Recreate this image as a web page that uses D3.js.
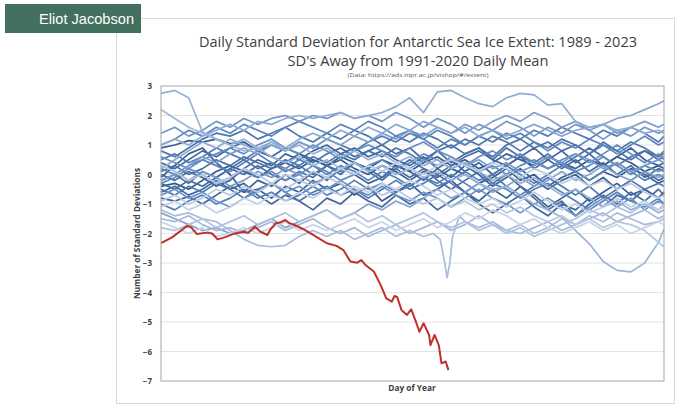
<!DOCTYPE html>
<html><head><meta charset="utf-8">
<script src="https://cdn.jsdelivr.net/npm/d3@7"></script>
<style>
html,body{margin:0;padding:0;background:#fff;}
svg{display:block;}
</style></head>
<body>
<svg id="chart" width="680" height="409"></svg>
<script>
// ---------- DATA ----------
const yTicks = [3, 2, 1, 0, -1, -2, -3, -4, -5, -6, -7];
const titleLines = ["Daily Standard Deviation for Antarctic Sea Ice Extent: 1989 - 2023", "SD's Away from 1991-2020 Daily Mean"];
const sourceNote = "(Data: https://ads.nipr.ac.jp/vishop/#/extent)";
const authorLabel = "Eliot Jacobson";
const yAxisTitle = "Number of Standard Deviations";
const xAxisTitle = "Day of Year";

// shared sample days for the 1989-2022 series
const days = [1,11,21,31,41,51,61,71,81,91,101,111,121,131,141,151,161,171,181,191,201,211,221,231,241,251,261,271,281,291,301,311,321,331,341,351,361,365];

// 1989 ... 2022 (ordered old -> recent), values in SDs at `days`
const blueSeries = [
[-0.4,-0.3,-0.5,-0.2,0.1,0.3,0.1,-0.1,0.2,0.4,0.2,0.5,0.3,0.6,0.4,0.2,0.5,0.3,0.1,0.4,0.6,0.3,0.5,0.2,0.4,0.7,0.5,0.3,0.6,0.4,0.2,0.5,0.3,0.6,0.4,0.1,0.3,0.2],
[0.9,1.0,1.15,1.1,1.2,1.05,1.1,0.8,0.6,0.4,0.7,0.5,0.3,0.5,0.2,0.0,0.3,0.1,-0.2,0.1,-0.1,0.2,0.0,-0.3,-0.1,0.2,-0.2,0.0,-0.4,-0.1,0.1,-0.2,0.1,-0.1,0.2,0.0,-0.3,-0.2],
[-0.1,0.3,0.7,0.9,0.4,0.0,-0.6,-0.5,-0.8,-0.4,-0.6,-0.2,-0.5,-0.3,-0.7,-0.4,-0.9,-0.6,-0.3,-0.7,-0.5,-0.2,-0.6,-0.9,-0.5,-0.8,-0.4,-0.7,-1.1,-0.8,-0.5,-0.9,-0.6,-0.3,-0.7,-0.5,-0.8,-0.6],
[-0.8,-0.9,-0.75,-1.0,-0.7,-0.4,-0.6,-0.2,-0.4,0.0,-0.3,0.1,-0.2,0.2,0.0,-0.3,-0.1,0.3,0.1,-0.2,0.2,-0.1,0.3,0.0,-0.4,-0.1,0.2,-0.2,-0.5,-0.2,0.0,-0.4,-0.1,-0.5,-0.2,0.1,-0.2,-0.1],
[0.0,-0.2,0.1,-0.1,-0.4,-0.2,0.2,0.5,0.3,0.7,0.5,0.8,1.0,0.7,0.9,0.6,0.8,0.5,0.3,0.6,0.2,0.5,0.1,0.4,0.0,0.3,0.6,0.2,0.5,0.8,0.4,0.7,0.3,0.6,0.9,0.5,0.3,0.4],
[-0.6,-0.4,-0.7,-0.5,-0.2,-0.5,-0.3,-0.7,-1.0,-0.7,-0.9,-1.2,-0.8,-1.0,-0.6,-0.9,-1.1,-0.7,-1.0,-0.8,-1.2,-0.9,-0.6,-1.0,-1.3,-1.0,-0.7,-1.1,-1.4,-1.0,-1.2,-0.8,-1.1,-0.7,-0.9,-0.5,-0.8,-0.6],
[0.4,0.2,0.5,0.8,0.6,0.9,1.1,0.8,0.6,0.9,0.7,0.4,0.7,0.9,0.6,0.8,1.0,0.7,0.9,0.5,0.8,0.4,0.7,0.9,0.5,0.3,0.6,0.9,0.5,0.2,0.5,0.1,0.4,0.0,0.3,-0.1,0.2,0.1],
[-0.3,-0.5,-0.2,-0.4,-0.1,0.2,0.0,0.3,0.0,-0.2,0.1,-0.1,0.3,0.0,0.4,0.1,-0.2,0.2,-0.1,0.2,-0.2,-0.5,-0.2,0.1,-0.3,0.0,-0.4,-0.8,-1.2,-0.9,-1.4,-1.0,-0.7,-1.0,-0.6,-0.9,-0.5,-0.7],
[0.1,0.3,0.0,0.2,0.5,0.3,0.6,0.4,0.2,0.5,0.3,0.0,0.3,0.1,0.4,0.2,-0.1,0.2,0.5,0.2,0.0,0.3,0.6,0.8,0.5,0.9,0.6,0.4,0.7,0.3,0.6,0.9,0.6,0.3,0.6,0.8,0.5,0.6],
[-0.2,0.0,-0.3,0.1,-0.1,0.2,0.5,0.2,0.4,0.1,0.3,0.6,0.4,0.7,0.5,0.8,0.6,0.9,0.7,0.4,0.8,1.0,0.7,0.9,0.6,1.0,1.2,0.9,1.1,0.8,1.0,0.7,1.1,0.8,0.5,0.8,0.6,0.7],
[0.8,0.6,0.9,1.2,1.4,1.3,1.5,1.2,1.4,1.6,1.3,1.1,1.4,1.2,1.5,1.3,1.0,1.3,1.1,1.4,1.2,0.9,1.2,1.0,1.3,1.1,0.8,1.1,0.9,1.2,1.0,0.7,1.0,0.8,1.1,0.9,0.6,0.8],
[-0.5,-0.7,-0.4,-0.6,-0.3,-0.5,-0.8,-0.5,-0.3,-0.6,-0.9,-0.6,-0.4,-0.7,-0.5,-0.8,-0.5,-0.2,-0.5,-0.3,0.0,-0.3,-0.6,-0.3,0.0,-0.4,-0.7,-0.4,-0.1,-0.4,-0.7,-0.4,-0.8,-0.5,-0.2,-0.5,-0.3,-0.4],
[0.5,0.7,0.4,0.6,0.9,0.7,0.5,0.8,1.0,0.8,1.1,0.9,1.2,1.0,0.8,1.1,1.3,1.1,1.4,1.2,0.9,1.2,1.0,1.3,1.1,1.4,1.2,1.5,1.3,1.6,1.4,1.2,1.5,1.3,1.6,1.4,1.1,1.3],
[-1.0,-1.2,-0.9,-0.7,-1.0,-0.8,-0.5,-0.8,-0.6,-0.9,-0.7,-0.4,-0.7,-0.5,-0.2,-0.5,-0.3,-0.6,-0.4,-0.1,-0.4,-0.2,0.1,-0.2,0.0,0.3,0.0,-0.3,0.0,0.3,0.1,-0.2,0.1,0.4,0.1,-0.2,0.0,-0.1],
[0.2,0.0,0.3,0.5,0.3,0.1,0.4,0.7,0.4,0.2,0.5,0.3,0.0,0.3,0.1,-0.2,0.1,-0.1,-0.4,-0.1,-0.3,0.0,-0.3,-0.6,-0.3,-0.5,-0.8,-0.5,-0.3,-0.6,-0.9,-1.2,-0.9,-0.6,-0.9,-1.1,-0.8,-1.0],
[1.0,1.2,1.5,1.3,1.6,1.4,1.7,1.5,1.3,1.6,1.8,1.6,1.4,1.7,1.5,1.8,1.6,1.3,1.5,1.2,1.5,1.3,1.0,1.3,1.5,1.2,1.4,1.1,0.8,1.1,0.9,1.2,1.0,0.7,1.0,1.3,1.0,1.1],
[-0.3,-0.1,0.2,0.0,-0.3,-0.1,0.2,-0.1,0.1,-0.2,0.0,0.3,0.1,-0.2,0.0,0.3,0.5,0.2,0.4,0.7,0.5,0.2,0.4,0.1,0.3,0.0,0.3,0.5,0.2,0.4,0.1,0.3,0.6,0.3,0.0,0.3,0.1,0.2],
[0.6,0.4,0.2,0.5,0.7,0.9,0.7,1.0,1.2,0.9,0.7,1.0,0.8,0.5,0.8,1.0,0.8,0.6,0.9,1.1,0.8,0.6,0.3,0.6,0.8,0.5,0.7,0.4,0.2,0.5,0.7,0.4,0.7,1.0,0.7,0.4,0.7,0.5],
[-0.7,-0.5,-0.8,-0.6,-0.9,-1.1,-0.8,-0.6,-0.3,-0.6,-0.4,-0.7,-0.5,-0.2,-0.5,-0.7,-0.4,-0.7,-0.9,-0.6,-0.8,-1.1,-0.8,-0.5,-0.8,-1.0,-1.3,-1.0,-0.8,-1.1,-1.4,-1.1,-0.8,-1.1,-0.8,-1.2,-0.9,-1.0],
[1.4,1.6,1.3,1.5,1.8,1.6,1.9,1.7,1.9,2.0,1.8,2.0,1.9,2.1,1.9,2.0,1.8,2.1,1.9,1.6,1.9,1.7,1.4,1.7,1.5,1.8,1.6,1.3,1.6,1.4,1.7,1.5,1.2,1.5,1.3,1.6,1.4,1.5],
[0.3,0.1,-0.2,0.1,-0.1,-0.4,-0.2,0.1,-0.1,0.2,0.0,-0.3,-0.1,0.2,0.4,0.1,0.3,0.0,0.2,0.5,0.3,0.6,0.3,0.5,0.2,0.4,0.1,0.3,0.6,0.4,0.7,0.5,0.2,0.4,0.1,0.3,0.5,0.4],
[-0.2,0.0,0.3,0.6,0.4,0.7,0.9,0.7,1.0,0.8,1.1,0.9,1.2,1.0,1.3,1.1,1.4,1.2,1.5,1.3,1.6,1.4,1.7,1.5,1.8,2.0,1.8,2.1,1.9,1.6,1.8,1.5,1.7,1.4,1.6,1.8,1.6,1.7],
[-1.3,-1.5,-1.7,-1.9,-1.8,-2.0,-1.9,-1.7,-1.5,-1.8,-1.6,-1.4,-1.2,-1.5,-1.3,-1.0,-1.2,-0.9,-1.1,-0.8,-0.5,-0.8,-0.6,-0.3,-0.6,-0.4,-0.1,-0.4,-0.2,0.1,-0.2,0.0,0.3,0.0,-0.2,0.1,-0.1,0.0],
[0.2,0.5,0.8,1.1,0.9,1.2,1.0,0.8,1.1,0.9,1.2,1.4,1.2,1.5,1.3,1.6,1.4,1.7,1.5,1.8,1.6,1.4,1.6,1.3,1.5,1.3,1.5,1.7,1.5,1.3,1.5,1.6,1.7,1.9,2.0,2.2,2.4,2.5],
[1.0,1.2,1.0,1.3,1.5,1.7,1.5,1.8,1.7,1.9,2.0,1.9,2.0,2.1,1.9,2.0,2.1,2.3,2.6,2.1,2.8,2.85,2.6,2.4,2.3,2.6,2.75,2.7,2.35,2.4,1.8,1.6,1.7,1.5,1.6,1.4,1.5,1.4],
[2.75,2.85,2.6,1.45,1.2,1.0,1.2,0.9,1.1,0.8,1.0,0.7,0.9,0.6,0.8,0.5,0.7,0.4,0.6,0.3,0.5,0.2,0.4,0.1,-0.2,0.0,-0.3,-0.1,-0.4,-0.7,-0.5,-0.8,-1.1,-0.9,-1.2,-1.0,-1.3,-1.2],
[2.2,1.9,1.6,1.4,1.2,1.0,0.8,0.9,0.6,0.4,0.6,0.3,0.5,0.2,0.4,0.1,0.3,0.0,0.2,-0.1,0.1,-0.2,0.0,-0.3,-0.5,-0.4,-0.7,-1.0,-1.2,-1.45,-1.9,-2.35,-2.95,-3.25,-3.3,-3.0,-2.3,-1.85],
[-1.5,-1.6,-1.4,-1.7,-1.9,-1.8,-2.0,-1.8,-1.6,-1.9,-1.7,-1.5,-1.8,-2.0,-1.8,-2.1,-1.9,-1.7,-2.0,-1.8,-1.6,-1.9,-1.7,-1.4,-1.7,-1.9,-2.0,-1.8,-1.6,-1.9,-1.7,-1.5,-1.3,-1.6,-1.4,-1.2,-1.5,-1.4],
[-1.8,-1.9,-1.7,-1.5,-1.8,-1.6,-1.4,-1.7,-1.5,-1.3,-1.6,-1.4,-1.2,-1.5,-1.3,-1.6,-1.4,-1.7,-1.5,-1.3,-1.6,-1.8,-1.6,-1.9,-1.7,-2.0,-1.8,-2.1,-1.9,-1.7,-1.5,-1.2,-1.4,-1.1,-1.3,-1.0,-1.2,-1.0],
[0.3,0.1,-0.2,0.0,-0.3,-0.1,0.2,0.0,-0.3,-0.5,-0.2,-0.4,-0.1,-0.3,-0.6,-0.4,-0.7,-0.5,-0.8,-1.0,-0.8,-1.1,-0.9,-1.2,-1.0,-1.3,-1.1,-1.4,-1.6,-1.4,-1.7,-1.5,-1.8,-1.6,-1.7,-1.9,-2.3,-2.45],
[-0.9,-0.7,-1.0,-0.8,-0.5,-0.7,-0.4,-0.6,-0.3,0.0,-0.2,0.1,-0.1,0.2,0.0,0.3,0.1,0.4,0.2,0.0,0.3,0.5,0.3,0.1,0.4,0.2,-0.1,0.2,0.0,-0.3,-0.1,-0.4,-0.2,-0.5,-0.3,-0.6,-0.8,-0.7],
[-1.1,-0.9,-1.2,-1.0,-1.3,-1.1,-0.8,-1.0,-0.7,-0.9,-0.6,-0.8,-0.5,-0.7,-0.4,-0.6,-0.3,-0.5,-0.2,-0.4,-0.7,-0.5,-0.8,-1.0,-0.8,-1.1,-0.9,-0.6,-0.9,-1.2,-1.0,-1.3,-1.1,-0.8,-1.1,-0.9,-1.2,-1.1],
[-1.6,-1.8,-2.0,-1.8,-2.1,-2.0,-1.8,-2.0,-1.8,-1.6,-1.9,-1.7,-1.9,-1.7,-1.5,-1.8,-1.6,-1.9,-1.7,-1.5,-1.8,-1.6,-1.3,-1.5,-1.2,-1.4,-1.7,-1.5,-1.8,-2.0,-1.8,-1.6,-1.9,-1.7,-2.0,-1.8,-1.6,-1.7]
];

// one recent year with the sharp winter dip, sampled more finely around the dip
const dipDays   = [1,11,21,31,41,51,61,71,81,91,101,111,121,131,141,151,161,171,181,191,198,203,206,208,210,212,217,221,231,241,251,261,271,281,291,301,311,321,331,341,351,361,365];
const dipValues = [-1.2,-1.4,-1.3,-1.5,-1.6,-1.9,-2.2,-2.4,-2.45,-2.4,-2.1,-1.9,-2.1,-1.9,-2.2,-2.0,-1.8,-2.1,-1.9,-2.1,-2.0,-2.2,-2.9,-3.5,-3.0,-2.1,-1.4,-1.6,-1.8,-1.6,-1.9,-1.7,-2.0,-1.8,-1.5,-1.7,-1.4,-1.6,-1.3,-1.5,-1.7,-1.6,-1.5];

// 2023
const days2023   = [1,9,16,20,23,27,34,38,42,47,53,61,64,69,73,78,80,84,87,91,94,98,103,109,115,121,128,133,138,143,146,149,155,160,164,168,170,172,175,179,182,185,188,191,195,196,199,202,204,207,209];
const values2023 = [-2.33,-2.13,-1.88,-1.74,-1.8,-2.02,-1.97,-2.0,-2.2,-2.13,-2.02,-1.94,-1.98,-1.77,-1.94,-2.05,-1.88,-1.65,-1.63,-1.54,-1.65,-1.72,-1.83,-1.99,-2.16,-2.33,-2.42,-2.56,-2.95,-2.99,-2.9,-3.07,-3.29,-3.75,-4.2,-4.31,-4.12,-4.16,-4.59,-4.76,-4.57,-4.93,-5.33,-5.04,-5.44,-5.78,-5.44,-5.78,-6.4,-6.34,-6.63];

// ---------- DRAW ----------
const svg = d3.select("#chart");
const W = 680, H = 409;
const plot = {left: 161, right: 664, top: 86, bottom: 381};

svg.append("rect").attr("x",0).attr("y",0).attr("width",W).attr("height",H).attr("fill","#fff");

// panel
svg.append("rect").attr("x",116.5).attr("y",18.5).attr("width",558).attr("height",385)
  .attr("fill","#fff").attr("stroke","#d9d9d9").attr("stroke-width",1);

// author badge
svg.append("rect").attr("x",5).attr("y",4).attr("width",136).attr("height",29).attr("fill","#426f5e");
svg.append("text").attr("x",134).attr("y",23.5).attr("text-anchor","end")
  .attr("font-family","Liberation Sans, Arial, sans-serif").attr("font-size",14.6).attr("fill","#fff")
  .text(authorLabel);

// titles
const tf = "'Open Sans', 'Noto Sans', sans-serif";
svg.append("text").attr("x",418).attr("y",46.5).attr("text-anchor","middle")
  .attr("font-family",tf).attr("font-size",15).attr("fill","#404040")
  .attr("textLength",438).attr("lengthAdjust","spacingAndGlyphs").text(titleLines[0]);
svg.append("text").attr("x",418).attr("y",66).attr("text-anchor","middle")
  .attr("font-family",tf).attr("font-size",15).attr("fill","#404040")
  .attr("textLength",261).attr("lengthAdjust","spacingAndGlyphs").text(titleLines[1]);
svg.append("text").attr("x",418).attr("y",76.5).attr("text-anchor","middle")
  .attr("font-family",tf).attr("font-size",6).attr("fill","#595959")
  .attr("textLength",141).attr("lengthAdjust","spacingAndGlyphs").text(sourceNote);

const x = d3.scaleLinear().domain([1,365]).range([plot.left, plot.right]);
const y = d3.scaleLinear().domain([-7,3]).range([plot.bottom, plot.top]);

// gridlines
svg.append("g").selectAll("line").data(yTicks.filter(t => t > -7 && t < 3)).join("line")
  .attr("x1",plot.left).attr("x2",plot.right)
  .attr("y1",d => y(d)).attr("y2",d => y(d))
  .attr("stroke","#e3e3e3").attr("stroke-width",1);

// y axis ticks via d3 axis
const yAxis = d3.axisLeft(y).tickValues(yTicks).tickSize(0).tickPadding(9).tickFormat(d3.format("d"));
const gy = svg.append("g").attr("transform",`translate(${plot.left},0)`).call(yAxis);
gy.select(".domain").remove();
gy.selectAll("text").attr("font-family",tf).attr("font-size",8).attr("font-weight","bold").attr("fill","#404040");

// lines
const line = d3.line().x(d => x(d[0])).y(d => y(d[1]));
const allBlue = blueSeries.map(v => v.map((val,i) => [days[i], val]));
const dipSeries = dipDays.map((d,i) => [d, dipValues[i]]);
allBlue.splice(28, 0, dipSeries);
const n = allBlue.length;
const color = d3.scaleLinear().domain([0, n*0.45, n-1]).range(["#34598c","#5b86c0","#c9d3e8"]).interpolate(d3.interpolateRgb);

const gl = svg.append("g");
gl.selectAll("path.blue").data(allBlue).join("path").attr("class","blue")
  .attr("d", line).attr("fill","none")
  .attr("stroke",(d,i) => color(i)).attr("stroke-width",1.7).attr("stroke-linejoin","round");

gl.append("path").datum(days2023.map((d,i) => [d, values2023[i]]))
  .attr("d", line).attr("fill","none").attr("stroke","#c0302b").attr("stroke-width",2).attr("stroke-linejoin","round");

// plot border
svg.append("rect").attr("x",plot.left).attr("y",plot.top)
  .attr("width",plot.right-plot.left).attr("height",plot.bottom-plot.top)
  .attr("fill","none").attr("stroke","#a6a6a6").attr("stroke-width",1);

// axis titles
svg.append("text").attr("transform",`translate(139.5,${(plot.top+plot.bottom)/2}) rotate(-90)`)
  .attr("text-anchor","middle").attr("font-family",tf).attr("font-size",8.3).attr("font-weight","bold").attr("fill","#404040")
  .text(yAxisTitle);
svg.append("text").attr("x",412).attr("y",391).attr("text-anchor","middle")
  .attr("font-family",tf).attr("font-size",8.3).attr("font-weight","bold").attr("fill","#404040")
  .text(xAxisTitle);
</script>
</body></html>
